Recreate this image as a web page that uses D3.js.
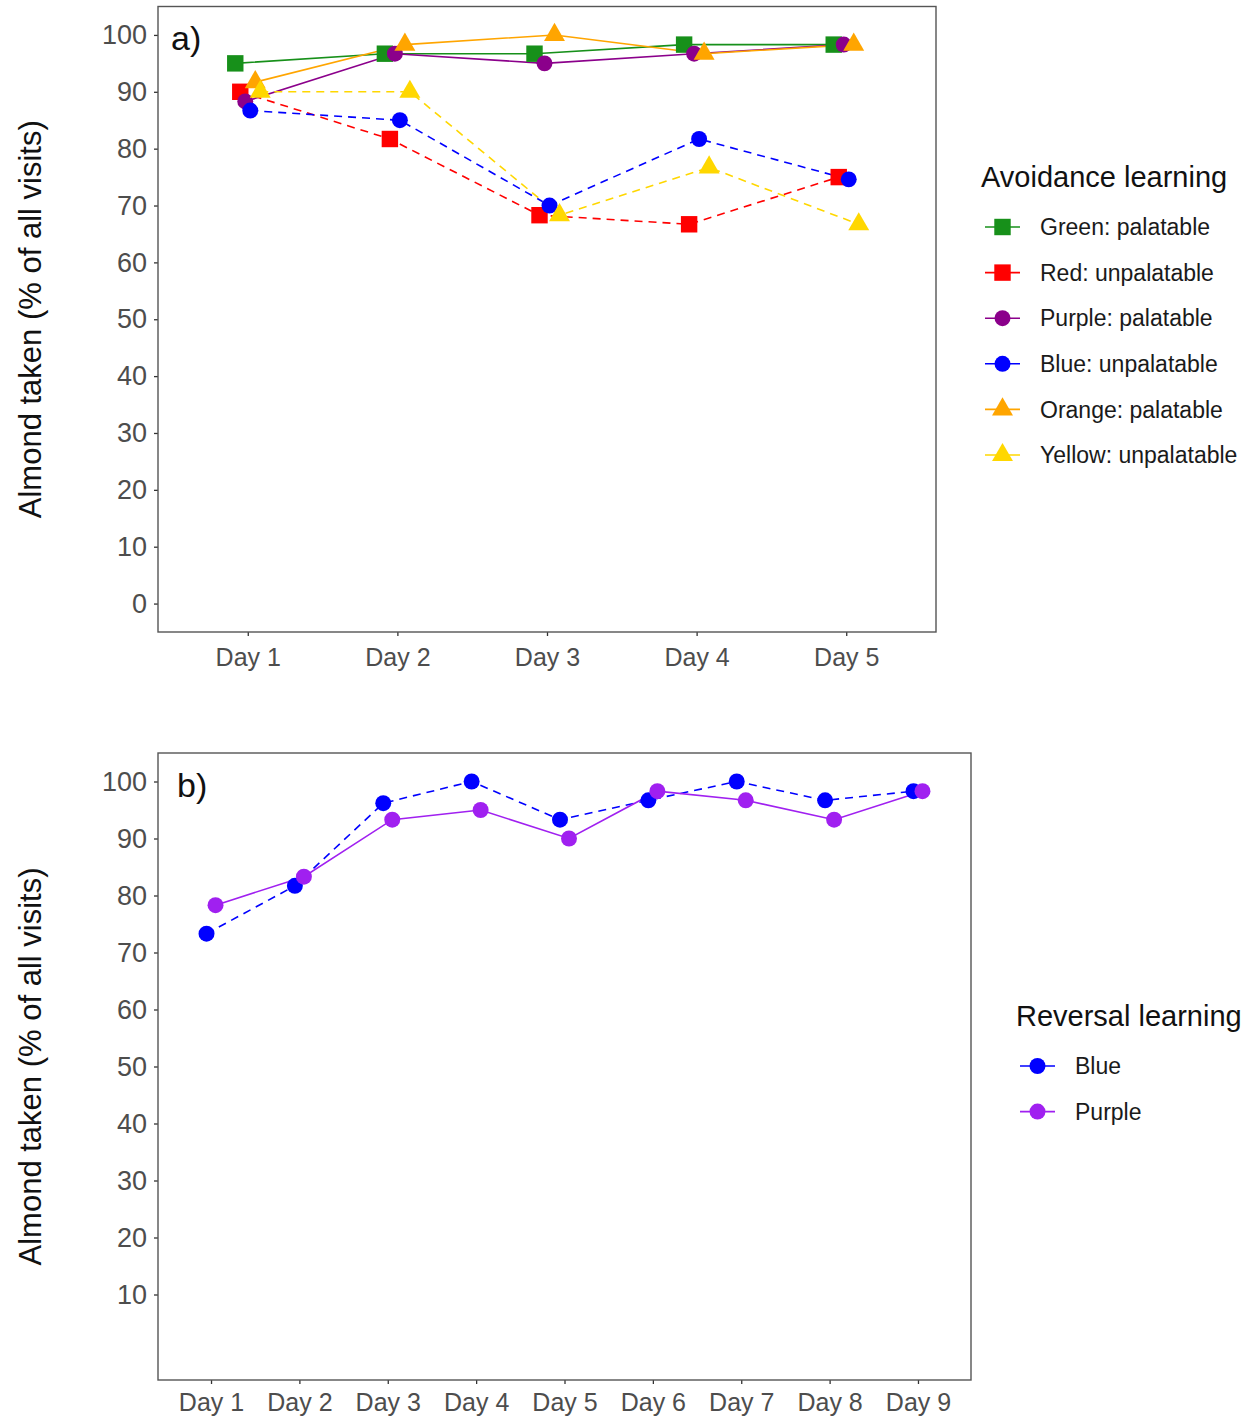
<!DOCTYPE html>
<html>
<head>
<meta charset="utf-8">
<script src="https://cdn.jsdelivr.net/npm/d3@7"></script>
<style>
  body { margin: 0; background: #fff; }
  text { font-family: "Liberation Sans", Arial, sans-serif; }
</style>
</head>
<body>
<svg id="chart" width="1252" height="1422"></svg>
<script>
// ---- panel a data (avoidance learning) ----
const daysA = ["Day 1", "Day 2", "Day 3", "Day 4", "Day 5"]
const seriesA = ["Green: palatable", "Red: unpalatable", "Purple: palatable",
                 "Blue: unpalatable", "Orange: palatable", "Yellow: unpalatable"]
const greenA  = [95.0, 96.7, 96.7, 98.3, 98.3]
const redA    = [90.0, 81.7, 68.3, 66.7, 75.0]
const purpleA = [88.3, 96.7, 95.0, 96.7, 98.3]
const blueA   = [86.7, 85.0, 70.0, 81.7, 74.6]
const orangeA = [91.7, 98.3, 100.0, 96.7, 98.3]
const yellowA = [90.0, 90.0, 68.3, 76.7, 66.7]
const yTicksA = [0, 10, 20, 30, 40, 50, 60, 70, 80, 90, 100]

// ---- panel b data (reversal learning) ----
const daysB = ["Day 1", "Day 2", "Day 3", "Day 4", "Day 5", "Day 6", "Day 7", "Day 8", "Day 9"]
const seriesB = ["Blue", "Purple"]
const blueB   = [73.3, 81.7, 96.2, 100.0, 93.3, 96.7, 100.0, 96.7, 98.3]
const purpleB = [78.3, 83.3, 93.3, 95.0, 90.0, 98.3, 96.7, 93.3, 98.3]
const yTicksB = [10, 20, 30, 40, 50, 60, 70, 80, 90, 100]

// styles
const colorsA = ["#17901a", "#ff0000", "#8b008b", "#0000ff", "#ffa500", "#ffd700"]
const shapesA = ["square", "square", "circle", "circle", "triangle", "triangle"]
const dashedA = [false, true, false, true, false, true]
const colorsB = ["#0000ff", "#a020f0"]
const shapesB = ["circle", "circle"]
const dashedB = [true, false]

const svg = d3.select("#chart")

function symbolPath(shape) {
    if (shape == "square") return d3.symbol().type(d3.symbolSquare).size(270)()
    if (shape == "triangle") return d3.symbol().type(d3.symbolTriangle).size(190)()
    return d3.symbol().type(d3.symbolCircle).size(200)()
}

function drawPanel(p) {
    let x = d3.scalePoint().domain(p.days).range([p.left, p.right]).padding(0.6)
    let y = d3.scaleLinear().domain([-5, 105]).range([p.bottom, p.top])
    let dodge = d3.scalePoint().domain(p.series).range([-p.dodge, p.dodge])

    let g = svg.append("g")

    // axes
    let yAxis = d3.axisLeft(y).tickValues(p.yTicks).tickSize(4).tickPadding(7)
    let gy = g.append("g").attr("transform", "translate(" + p.left + ",0)").call(yAxis)
    let xAxis = d3.axisBottom(x).tickSize(4).tickPadding(p.xPad)
    let gx = g.append("g").attr("transform", "translate(0," + p.bottom + ")").call(xAxis)
    ;[gx, gy].forEach(ax => {
        ax.select(".domain").remove()
        ax.selectAll(".tick line").attr("stroke", "#333").attr("stroke-width", 1.3)
        ax.selectAll(".tick text").attr("fill", "#4d4d4d").style("font-size", "27px")
    })
    gx.selectAll(".tick text").style("font-size", "25px")

    // panel border
    g.append("rect")
        .attr("x", p.left).attr("y", p.top)
        .attr("width", p.right - p.left).attr("height", p.bottom - p.top)
        .attr("fill", "none").attr("stroke", "#555").attr("stroke-width", 1.4)

    // lines and points
    p.series.forEach((s, i) => {
        let pts = p.values[i].map((v, j) => ({ x: x(p.days[j]) + dodge(s), y: y(v) }))
        g.append("path")
            .datum(pts)
            .attr("fill", "none")
            .attr("stroke", p.colors[i])
            .attr("stroke-width", 1.6)
            .attr("stroke-dasharray", p.dashed[i] ? "8,6" : null)
            .attr("d", d3.line().x(d => d.x).y(d => d.y))
    })
    p.series.forEach((s, i) => {
        let pts = p.values[i].map((v, j) => ({ x: x(p.days[j]) + dodge(s), y: y(v) }))
        g.selectAll(null)
            .data(pts)
            .enter()
            .append("path")
            .attr("d", symbolPath(p.shapes[i]))
            .attr("transform", d => "translate(" + d.x + "," + d.y + ")")
            .attr("fill", p.colors[i])
    })

    // y axis title
    g.append("text")
        .attr("transform", "translate(30," + ((p.top + p.bottom) / 2) + ") rotate(-90)")
        .attr("text-anchor", "middle")
        .attr("dy", "0.35em")
        .style("font-size", "31px")
        .attr("fill", "#111")
        .text("Almond taken (% of all visits)")

    // panel tag
    g.append("text")
        .attr("x", p.tagX).attr("y", p.tagY)
        .style("font-size", "34px")
        .attr("fill", "#111")
        .text(p.tag)

    // legend
    let lg = g.append("g").attr("transform", "translate(" + p.legendX + "," + p.legendY + ")")
    lg.append("text")
        .attr("x", 0).attr("y", 10)
        .style("font-size", "29px")
        .attr("fill", "#111")
        .text(p.legendTitle)
    p.series.forEach((s, i) => {
        let cy = 50 + i * 45.6
        lg.append("line")
            .attr("x1", 4).attr("x2", 39).attr("y1", cy).attr("y2", cy)
            .attr("stroke", p.colors[i]).attr("stroke-width", 1.6)
        lg.append("path")
            .attr("d", symbolPath(p.shapes[i]))
            .attr("transform", "translate(21.5," + cy + ")")
            .attr("fill", p.colors[i])
        lg.append("text")
            .attr("x", 59).attr("y", cy)
            .attr("dy", "0.36em")
            .style("font-size", "23px")
            .attr("fill", "#1a1a1a")
            .text(s)
    })
}

drawPanel({
    days: daysA, series: seriesA,
    values: [greenA, redA, purpleA, blueA, orangeA, yellowA],
    colors: colorsA, shapes: shapesA, dashed: dashedA,
    yTicks: yTicksA,
    left: 158, right: 936, top: 6.5, bottom: 632,
    dodge: 12.5, xPad: 12,
    tag: "a)", tagX: 171, tagY: 50,
    legendTitle: "Avoidance learning", legendX: 981, legendY: 177
})

drawPanel({
    days: daysB, series: seriesB,
    values: [blueB, purpleB],
    colors: colorsB, shapes: shapesB, dashed: dashedB,
    yTicks: yTicksB,
    left: 158, right: 971, top: 753, bottom: 1380,
    dodge: 4.5, xPad: 9,
    tag: "b)", tagX: 177, tagY: 797,
    legendTitle: "Reversal learning", legendX: 1016, legendY: 1016
})
</script>
</body>
</html>
